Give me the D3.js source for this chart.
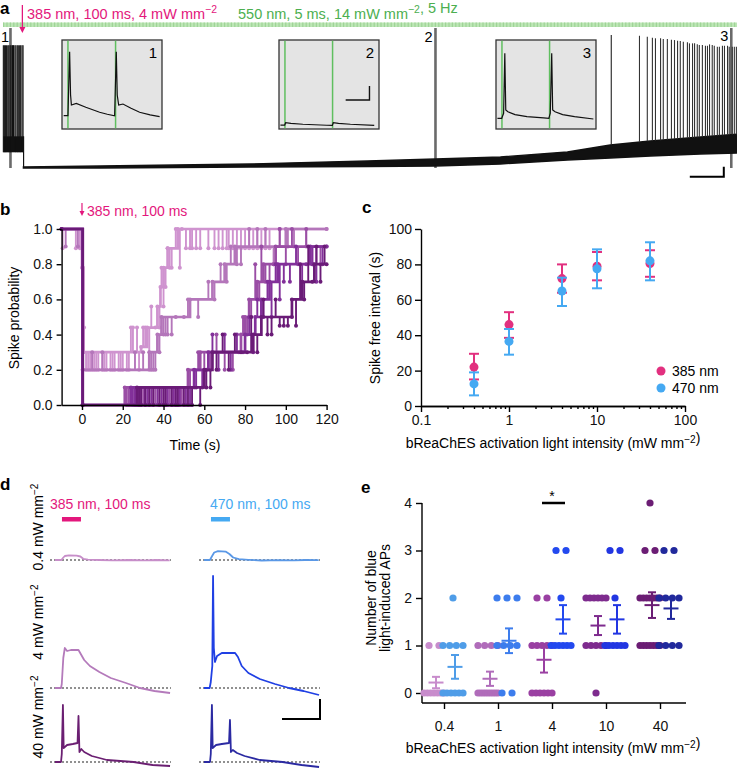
<!DOCTYPE html>
<html><head><meta charset="utf-8">
<script src="https://cdn.jsdelivr.net/npm/d3@7"></script>
<style>body{margin:0;background:#fff}svg{display:block;font-family:"Liberation Sans",Arial,Helvetica,sans-serif}</style>
</head><body><svg id="c" width="737" height="771"></svg>
<script>
// ================= DATA =================
// Panel a (time in s, voltage in mV)
const aPreSpikeTimes = [-5.9,-5.6,-5.3,-5.0,-4.6,-4.3,-3.9,-3.6,-3.2,-2.9,-2.5,-2.2,-1.8,-1.5,-1.1,-0.8,-0.4,-0.1];
const aPrePeak = 22;
const aPreBandLow = -62.5, aPreBandHigh = -50;
const aEnvT    = [0, 22.6, 66.8, 101.2, 121.2, 140.3, 160, 172.6, 184.4, 199.1, 210];
const aEnvLow  = [-75, -75, -74.2, -73.8, -73.4, -71.8, -68.7, -67.1, -65.5, -64, -63.2];
const aEnvHigh = [-74.2, -73.4, -71.8, -69.5, -67.9, -66.3, -62.4, -56.8, -53.7, -50.5, -48.2];
const aSpikeTimes = [172.9,181.2,183.5,185.0,185.9,187.4,188.2,189.4,190.6,191.5,192.4,193.2,194.1,195.3,195.9,196.8,197.4,198.2,198.8,199.7,200.6,201.2,201.8,202.6,203.2,204.1,204.7,205.6,206.2,207.1,207.6,208.5,209.1,209.7];
const aSpikePeaks = [30,29.4,28.7,27.9,27.4,27.4,26.8,26.8,26.3,26,25.5,25.3,24.7,24.2,23.4,23.4,23.4,22.6,22.1,22.1,21.5,21.5,22.6,22.1,21.5,20.8,20.8,21.5,21.5,21.5,20.8,20.8,20.8,20.8];
const aMarkerTimes = [-3.8, 121.2, 208.2];
const aMarkerLabels = ["1", "2", "3"];
const aGreenPulses = [25, 225]; // ms within inset window
// insets: [ms, mV]
const inset1 = [[7,-69.6],[25,-69.6],[32,21.9],[36,-40],[39.5,-54.3],[60,-51.9],[100,-57.5],[158,-64.7],[190,-67.5],[221,-69.6],[228,21.9],[232,-40],[238,-54.3],[256,-52.9],[290,-59],[326,-64.7],[370,-68.5],[410,-71]];
const inset2 = [[6,-82.9],[24,-82.9],[28,-79.6],[50,-80.5],[100,-81.8],[200,-83.2],[224,-83.5],[228,-79.6],[250,-80.5],[300,-81.8],[400,-83.5]];
const inset3 = [[6,-73.3],[24,-73.3],[32,-66.1],[37,19.6],[41,-61.4],[50,-64],[80,-68],[130,-71],[200,-72.8],[222,-73.3],[228,-66.1],[234,19.6],[238,-61.4],[248,-64],[280,-68],[330,-71],[409,-74.3]];
const insetLabels = ["1","2","3"];

// Panel b: step series (time s, probability)
const bColors = ["#cf93cf","#b476ba","#9a4ea5","#82309a","#6a1b77"];
const bSteps = [
  [[-10,1],[0,0.78],[0.7,0.3],[29,0.33],[32,0.44],[37,0.56],[38.5,0.67],[40,0.78],[42,0.89],[47,1],[120,1]],
  [[-10,1],[0.3,0.2],[33,0.3],[37,0.4],[39,0.5],[53,0.6],[64,0.7],[70,0.8],[75,0.9],[100,1],[120,1]],
  [[-10,1],[0.2,0],[21,0.1],[52,0.2],[58,0.3],[78,0.4],[80,0.5],[82,0.6],[86,0.7],[89,0.8],[95,0.9],[120,0.9]],
  [[-10,1],[0.3,0],[24,0.1],[55,0.2],[62,0.3],[80,0.4],[85,0.5],[88,0.6],[92,0.7],[96,0.8],[112,0.9],[120,0.9]],
  [[-10,1],[0.4,0],[27,0.1],[60,0.2],[64,0.3],[84,0.4],[88,0.5],[103,0.6],[108,0.7],[114,0.8],[120,0.8]]
];
const bFlicks = [
  [[-9.5,0.89],[-3,0.89],[-1,0.89],[1,0.44],[2,0.2],[3,0.2],[4,0.2],[5,0.2],[6,0.2],[7,0.2],[8,0.2],[10,0.2],[11,0.2],[12,0.2],[14,0.2],[15,0.2],[16,0.2],[18,0.2],[19,0.2],[20,0.2],[22,0.2],[23,0.2],[24,0.44],[25,0.44],[27,0.44],[28,0.2],[30,0.44],[31,0.44],[33,0.2],[34,0.56],[36,0.44],[38,0.44],[39,0.78],[40,0.56],[41,0.67],[42,0.89],[43,0.78],[44,0.78],[46,1.0],[48,0.78],[49,1.0],[51,0.89],[53,0.89],[54,0.89],[56,0.89],[58,0.89],[62,0.89],[65,0.89],[67,0.89],[69,0.89],[71,0.89],[72,0.89],[74,0.89],[76,0.89],[78,0.89],[80,0.89],[82,0.89],[84,0.89],[86,0.89],[88,0.89],[90,0.89],[92,0.89]],
  [[-8,0.9],[-2,0.9],[5,0.3],[10,0.3],[26,0.3],[30,0.3],[34,0.2],[35,0.2],[36,0.2],[38,0.3],[40,0.4],[41,0.4],[42,0.4],[44,0.4],[46,0.5],[50,0.5],[52,0.6],[57,0.5],[62,0.7],[65,0.6],[68,0.8],[71,0.7],[73,0.9],[76,0.8],[78,0.8],[82,1.0],[86,1.0],[90,1.0],[94,0.8],[97,1.0],[101,0.9],[104,0.9],[110,0.9]],
  [[22,0],[23,0],[24,0],[26,0],[27,0],[28,0],[30,0],[31,0],[33,0],[35,0],[36,0],[38,0],[40,0],[42,0],[43,0],[45,0],[46,0],[48,0],[49,0],[53,0.1],[55,0.1],[57,0.3],[60,0.2],[63,0.2],[66,0.4],[70,0.2],[74,0.2],[77,0.3],[79,0.5],[81,0.4],[83,0.5],[85,0.8],[87,0.6],[88,0.9],[90,0.7],[92,0.7],[94,0.8],[97,1.0],[100,0.8],[103,1.0],[106,0.8],[110,1.0],[113,0.8],[117,0.8]],
  [[25,0],[26,0],[27,0],[29,0],[31,0],[32,0],[34,0],[37,0],[39,0],[41,0],[42,0],[44,0],[45,0],[47,0],[48,0],[51,0],[53,0],[56,0.1],[59,0.1],[61,0.2],[64,0.4],[67,0.2],[70,0.4],[73,0.2],[76,0.4],[79,0.3],[82,0.5],[84,0.3],[86,0.6],[89,0.5],[91,0.7],[93,0.5],[95,0.8],[97,0.6],[99,0.7],[102,0.7],[105,0.9],[108,0.7],[110,0.8],[113,0.8],[115,0.7],[118,0.8]],
  [[28,0],[29,0],[31,0],[33,0],[35,0],[38,0],[40,0],[41,0],[44,0],[46,0],[47,0],[50,0],[52,0],[54,0],[58,0],[61,0.1],[63,0.1],[66,0.2],[69,0.4],[72,0.2],[75,0.4],[78,0.3],[81,0.3],[83,0.5],[86,0.3],[89,0.6],[91,0.4],[93,0.4],[95,0.6],[97,0.45],[99,0.45],[101,0.45],[103,0.5],[105,0.45],[107,0.8],[109,0.6],[111,0.9],[113,0.7],[115,0.9],[117,0.7],[119,0.9]]
];
const bXTicks = [0,20,40,60,80,100,120];
const bYTicks = [0,0.2,0.4,0.6,0.8,1.0];

// Panel c
const cIntensity = [0.4, 1, 4, 10, 40];
const c385Mean = [22, 46, 72, 79, 80.5];
const c385Lo   = [15, 38.5, 64, 71, 73];
const c385Hi   = [29.5, 53, 80, 87, 88];
const c470Mean = [12.5, 36.5, 65, 77.5, 82];
const c470Lo   = [6, 29, 56.5, 66.5, 71];
const c470Hi   = [19, 43.5, 72.5, 88.5, 92.5];
const cXTicks = [0.1, 1, 10, 100];
const cYTicks = [0, 20, 40, 60, 80, 100];
const cLegend = ["385 nm", "470 nm"];

// Panel d traces [ms, mV above baseline]
const dRowLabels = ["0.4", "4", "40"];
const dLight = [63, 163];
const dTraces = [
  [ // 0.4
    [[26,0],[60,0],[68,2],[78,4],[100,4.6],[140,4.4],[160,3.5],[175,1.2],[200,0.4],[260,0],[330,-0.3],[420,0],[500,-0.4],[560,0],[630,-0.3]],
    [[26,0],[58,0],[66,3],[80,7.5],[100,8.8],[140,8.4],[160,6],[180,2.5],[210,0.8],[260,0.2],[330,-0.5],[420,-0.2],[500,-0.4],[560,0],[630,-0.2]]
  ],
  [ // 4
    [[26,0],[58,0],[62,4],[70,30],[78,40],[90,37],[110,38],[150,38],[162,34],[180,28],[210,22],[260,16],[320,10],[400,5],[474,0],[550,-3],[632,-5]],
    [[26,0],[56,0],[62,6],[70,22],[74,112],[78,40],[84,26],[95,32],[120,35],[190,35],[205,31],[225,22],[260,15],[320,9],[400,4],[474,0],[550,-3],[632,-7]]
  ],
  [ // 40
    [[26,0],[58,0],[62,8],[68,57],[72,14],[90,17],[120,18],[145,19],[150,46],[155,10],[165,13],[180,10],[220,6],[300,2],[440,0],[540,-3],[632,-4]],
    [[26,0],[58,0],[62,8],[68,57],[72,14],[90,17],[120,18],[158,19],[163,42],[168,10],[178,12],[200,9],[240,6],[320,2],[440,0],[540,-3],[632,-5]]
  ]
];
const dColors = [["#c78ec9","#5a98e6"],["#b47abb","#2040e4"],["#6b1f72","#2b2aa2"]];

// Panel e
const eCats = ["0.4", "1", "4", "10", "40"];
const ePinkDots = [[0,0,0,0,0,0,0,1,1],[0,0,0,0,0,0,0,0,0,1,1,1,1],[0,0,0,0,0,0,1,1,1,1,1,2,2],[0,1,1,1,1,1,2,2,2,2,2,2],[1,1,1,1,1,1,1,2,2,2,2,2,2,2,3,3,4]];
const eBlueDots = [[0,0,0,0,0,0,1,1,1,1,2],[0,0,1,1,1,1,2,2,2],[1,1,1,1,1,1,2,3,3],[1,1,1,1,1,1,2,3,3],[1,1,1,1,2,2,2,2,3,3]];
const ePinkMean = [0.22, 0.3, 0.7, 1.42, 1.85];
const ePinkSem  = [0.12, 0.15, 0.27, 0.2, 0.27];
const eBlueMean = [0.55, 1.1, 1.55, 1.55, 1.78];
const eBlueSem  = [0.25, 0.26, 0.3, 0.3, 0.22];
const ePinkColors = ["#c88ccc","#b06cba","#9a40a2","#7e2b8e","#6b1d74"];
const eBlueColors = ["#4f9de8","#3d7ded","#2349ef","#2236e2","#21299c"];
const eYTicks = [0,1,2,3,4];

// ================= DRAW =================
const PINK = "#e3177c", GREEN = "#4caf50", BLUE = "#45a9f2";
const svg = d3.select("#c");
const FS = 14;

function supText(sel, parts, size) {
  parts.forEach(p => {
    if (p.sup) {
      sel.append("tspan").attr("dy", -size*0.38).attr("font-size", size*0.72).text(p.t);
      sel.append("tspan").attr("dy", size*0.38).text("");
    } else sel.append("tspan").text(p.t);
  });
  return sel;
}
function panelLabel(t, x, y) {
  svg.append("text").attr("x", x).attr("y", y).attr("font-size", 17).attr("font-weight", "bold").text(t);
}
function styleAxis(g) {
  g.selectAll("path.domain").attr("stroke", "#000").attr("stroke-width", 1.4);
  g.selectAll(".tick line").attr("stroke", "#000").attr("stroke-width", 1.4);
  g.selectAll(".tick text").attr("font-size", FS).attr("fill", "#111").attr("font-family", null);
}

// ---------- Panel a ----------
panelLabel("a", 0, 14);
const aX = d3.scaleLinear([-6, 210], [3, 737.4]);
const aY = d3.scaleLinear([-75, 30], [168, 35]);
const ga = svg.append("g");
ga.append("rect").attr("x", aX(-6)).attr("y", 22.5).attr("width", aX(210) - aX(-6)).attr("height", 4.5).attr("fill", "#bde6b6");
ga.append("line").attr("x1", aX(-6)).attr("x2", aX(210)).attr("y1", 24.75).attr("y2", 24.75)
  .attr("stroke", "#9fd497").attr("stroke-width", 4.5).attr("stroke-dasharray", "1.2,2.2");
supText(ga.append("text").attr("x", 27).attr("y", 19).attr("font-size", 14.5).attr("fill", PINK),
  [{t:"385 nm, 100 ms, 4 mW mm"},{t:"−2",sup:true}], 14.5);
supText(ga.append("text").attr("x", 238).attr("y", 19).attr("font-size", 14.5).attr("fill", GREEN),
  [{t:"550 nm, 5 ms, 14 mW mm"},{t:"−2",sup:true},{t:", 5 Hz"}], 14.5);
ga.append("line").attr("x1", aX(-0.3)).attr("x2", aX(-0.3)).attr("y1", 5).attr("y2", 31).attr("stroke", PINK).attr("stroke-width", 1.3);
ga.append("path").attr("d", `M${aX(-0.3)-3},27 L${aX(-0.3)+3},27 L${aX(-0.3)},33 Z`).attr("fill", PINK);
aMarkerTimes.forEach(t => {
  ga.append("line").attr("x1", aX(t)).attr("x2", aX(t)).attr("y1", aY(35.5)).attr("y2", aY(-75))
    .attr("stroke", "#6a6a6a").attr("stroke-width", 2.6);
});
ga.append("text").attr("x", 1).attr("y", 42).attr("font-size", 14.5).text(aMarkerLabels[0]);
ga.append("text").attr("x", aX(aMarkerTimes[1]) - 3).attr("y", 42).attr("font-size", 14.5).attr("text-anchor", "end").text(aMarkerLabels[1]);
ga.append("text").attr("x", aX(aMarkerTimes[2]) - 3).attr("y", 41).attr("font-size", 14.5).attr("text-anchor", "end").text(aMarkerLabels[2]);
ga.append("rect").attr("x", aX(-5.9)).attr("y", aY(aPreBandHigh)).attr("width", aX(0) - aX(-5.9)).attr("height", aY(aPreBandLow) - aY(aPreBandHigh)).attr("fill", "#111");
aPreSpikeTimes.forEach(t => {
  ga.append("line").attr("x1", aX(t)).attr("x2", aX(t)).attr("y1", aY(aPreBandLow)).attr("y2", aY(aPrePeak)).attr("stroke", "#111").attr("stroke-width", 1.1);
});
ga.append("line").attr("x1", aX(0.05)).attr("x2", aX(0.05)).attr("y1", aY(aPreBandHigh)).attr("y2", aY(-75)).attr("stroke", "#111").attr("stroke-width", 1.2);
const envData = aEnvT.map((t, i) => ({t, lo: aEnvLow[i], hi: aEnvHigh[i]}));
ga.append("path").datum(envData).attr("fill", "#111").attr("stroke", "#111").attr("stroke-width", 1.4)
  .attr("d", d3.area().x(d => aX(d.t)).y0(d => aY(d.lo)).y1(d => aY(d.hi)));
const hiAt = d3.scaleLinear(aEnvT, aEnvHigh);
aSpikeTimes.forEach((t, i) => {
  ga.append("line").attr("x1", aX(t)).attr("x2", aX(t)).attr("y1", aY(hiAt(t))).attr("y2", aY(aSpikePeaks[i]))
    .attr("stroke", i === 0 ? "#222" : "#333").attr("stroke-width", 1.1);
});
ga.append("path").attr("d", `M${aX(196)},${aY(-82)} H${aX(206)} V${aY(-74)}`).attr("fill", "none").attr("stroke", "#000").attr("stroke-width", 2);
const insets = [inset1, inset2, inset3];
const insetX0 = [62, 279, 496];
const iX = d3.scaleLinear([0, 420], [0, 100]);
const iY = d3.scaleLinear([-70, 30], [76, 6]);
insets.forEach((pts, k) => {
  const g = ga.append("g").attr("transform", `translate(${insetX0[k]},40)`);
  g.append("rect").attr("width", 100).attr("height", 89).attr("fill", "#e4e4e4").attr("stroke", "#333").attr("stroke-width", 1.3);
  aGreenPulses.forEach(p => g.append("line").attr("x1", iX(p)).attr("x2", iX(p)).attr("y1", 0.7).attr("y2", 88.3).attr("stroke", "#5fbf5f").attr("stroke-width", 1.5));
  g.append("path").datum(pts).attr("fill", "none").attr("stroke", "#111").attr("stroke-width", 1.2)
    .attr("d", d3.line().x(d => iX(d[0])).y(d => iY(d[1])));
  g.append("text").attr("x", 95).attr("y", 18).attr("text-anchor", "end").attr("font-size", 15).text(insetLabels[k]);
  if (k === 1) {
    // scale bar: 100 ms, 20 mV
    const barH = iY(-70) - iY(-50);
    g.append("path").attr("d", `M${iX(280)},60 H${iX(380)} V${60 - barH}`).attr("fill", "none").attr("stroke", "#111").attr("stroke-width", 1.4);
  }
});

// ---------- Panel b ----------
panelLabel("b", 0, 215);
const bX = d3.scaleLinear([-10, 120], [61.6, 326.6]);
const bY = d3.scaleLinear([0, 1], [405, 229]);
const gb = svg.append("g");
function stepAt(steps, t) { let v = steps[0][1]; steps.forEach(s => { if (s[0] <= t) v = s[1]; }); return v; }
bSteps.forEach((steps, k) => {
  const col = bColors[k];
  const g = gb.append("g");
  bFlicks[k].forEach(f => {
    const base = stepAt(steps, f[0]);
    g.append("line").attr("x1", bX(f[0])).attr("x2", bX(f[0])).attr("y1", bY(base)).attr("y2", bY(f[1])).attr("stroke", col).attr("stroke-width", 1.9);
    g.append("circle").attr("cx", bX(f[0])).attr("cy", bY(f[1])).attr("r", 2).attr("fill", col);
  });
  g.append("path").datum(steps).attr("fill", "none").attr("stroke", col).attr("stroke-width", 2.7)
    .attr("d", d3.line().curve(d3.curveStepAfter).x(d => bX(d[0])).y(d => bY(d[1])));
  steps.forEach(s => g.append("circle").attr("cx", bX(s[0])).attr("cy", bY(s[1])).attr("r", 2).attr("fill", col));
});
const bxa = gb.append("g").attr("transform", "translate(0,405)").call(d3.axisBottom(bX).tickValues(bXTicks).tickSize(5).tickSizeOuter(0).tickPadding(4));
styleAxis(bxa);
const bya = gb.append("g").attr("transform", "translate(61.6,0)").call(d3.axisLeft(bY).tickValues(bYTicks).tickFormat(d3.format(".1f")).tickSize(5).tickSizeOuter(0).tickPadding(4));
styleAxis(bya);
gb.append("text").attr("x", 195).attr("y", 450).attr("text-anchor", "middle").attr("font-size", FS).text("Time (s)");
gb.append("text").attr("transform", "translate(19,318) rotate(-90)").attr("text-anchor", "middle").attr("font-size", FS).text("Spike probability");
gb.append("line").attr("x1", bX(0)).attr("x2", bX(0)).attr("y1", 203).attr("y2", 214).attr("stroke", PINK).attr("stroke-width", 1.2);
gb.append("path").attr("d", `M${bX(0)-2.5},211 L${bX(0)+2.5},211 L${bX(0)},216 Z`).attr("fill", PINK);
gb.append("text").attr("x", bX(0) + 5).attr("y", 216).attr("font-size", FS).attr("fill", PINK).text("385 nm, 100 ms");

// ---------- Panel c ----------
panelLabel("c", 362, 213);
const cX = d3.scaleLog([0.1, 100], [421, 685]);
const cY = d3.scaleLinear([0, 100], [406, 229]);
const gc = svg.append("g");
const minor = [];
[0.1, 1, 10].forEach(dec => [2,3,4,5,6,7,8,9].forEach(m => minor.push(dec * m)));
const cxMinor = gc.append("g").attr("transform", "translate(0,406)").call(d3.axisBottom(cX).tickValues(minor).tickFormat("").tickSize(3).tickSizeOuter(0));
styleAxis(cxMinor);
const cxa = gc.append("g").attr("transform", "translate(0,406)").call(d3.axisBottom(cX).tickValues(cXTicks).tickFormat(d => String(d)).tickSize(6).tickSizeOuter(0).tickPadding(3));
styleAxis(cxa);
const cya = gc.append("g").attr("transform", "translate(421,0)").call(d3.axisLeft(cY).tickValues(cYTicks).tickSize(6).tickSizeOuter(0).tickPadding(3));
styleAxis(cya);
function cSeries(means, lo, hi, col) {
  cIntensity.forEach((x, i) => {
    const px = cX(x);
    gc.append("line").attr("x1", px).attr("x2", px).attr("y1", cY(lo[i])).attr("y2", cY(hi[i])).attr("stroke", col).attr("stroke-width", 2);
    [lo[i], hi[i]].forEach(v => gc.append("line").attr("x1", px - 5).attr("x2", px + 5).attr("y1", cY(v)).attr("y2", cY(v)).attr("stroke", col).attr("stroke-width", 2));
    gc.append("circle").attr("cx", px).attr("cy", cY(means[i])).attr("r", 4.5).attr("fill", col);
  });
}
cSeries(c385Mean, c385Lo, c385Hi, "#e2307f");
cSeries(c470Mean, c470Lo, c470Hi, BLUE);
[["#e2307f", 371], [BLUE, 388]].forEach((d, i) => {
  gc.append("circle").attr("cx", 661).attr("cy", d[1]).attr("r", 4.5).attr("fill", d[0]);
  gc.append("text").attr("x", 672).attr("y", d[1] + 5).attr("font-size", FS).text(cLegend[i]);
});
supText(gc.append("text").attr("x", 553).attr("y", 448).attr("text-anchor", "middle").attr("font-size", FS),
  [{t:"bReaChES activation light intensity (mW mm"},{t:"−2",sup:true},{t:")"}], FS);
gc.append("text").attr("transform", "translate(380,318) rotate(-90)").attr("text-anchor", "middle").attr("font-size", FS).text("Spike free interval (s)");

// ---------- Panel d ----------
panelLabel("d", 0, 490);
const gd = svg.append("g");
const dX = d3.scaleLinear([0, 637], [0, 121]);
const dColX = [50, 199];
const dBase = [560, 688, 762];
const dY = d3.scaleLinear([0, 20], [0, -20]);
gd.append("text").attr("x", 50).attr("y", 509).attr("font-size", FS).attr("fill", PINK).text("385 nm, 100 ms");
gd.append("text").attr("x", 210).attr("y", 509).attr("font-size", FS).attr("fill", BLUE).text("470 nm, 100 ms");
gd.append("rect").attr("x", dColX[0] + dX(dLight[0])).attr("y", 517).attr("width", dX(dLight[1]) - dX(dLight[0])).attr("height", 4.5).attr("fill", PINK);
gd.append("rect").attr("x", dColX[1] + dX(dLight[0])).attr("y", 517).attr("width", dX(dLight[1]) - dX(dLight[0])).attr("height", 4.5).attr("fill", BLUE);
const dLabelY = [527, 622, 717];
dRowLabels.forEach((lab, r) => {
  supText(gd.append("text").attr("transform", `translate(43,${dLabelY[r]}) rotate(-90)`).attr("text-anchor", "middle").attr("font-size", FS),
    [{t: lab + " mW mm"}, {t:"−2", sup:true}], FS);
  [0, 1].forEach(c => {
    const g = gd.append("g").attr("transform", `translate(${dColX[c]},${dBase[r]})`);
    g.append("line").attr("x1", 0).attr("x2", 121).attr("y1", 0).attr("y2", 0).attr("stroke", "#222").attr("stroke-width", 1.2).attr("stroke-dasharray", "2,2");
    g.append("path").datum(dTraces[r][c]).attr("fill", "none").attr("stroke", dColors[r][c]).attr("stroke-width", 1.8).attr("stroke-linejoin", "round")
      .attr("d", d3.line().x(d => dX(d[0])).y(d => dY(d[1])));
  });
});
gd.append("path").attr("d", `M${dColX[1] + dX(437)},719 H${dColX[1] + dX(637)} V${719 + dY(20)}`).attr("fill", "none").attr("stroke", "#000").attr("stroke-width", 2);

// ---------- Panel e ----------
panelLabel("e", 361, 493);
const ge = svg.append("g");
const eX = d3.scalePoint().domain(eCats).range([444, 660]);
const eY = d3.scaleLinear([0, 4], [693, 503]);
const eyAx = ge.append("g").attr("transform", "translate(422,0)").call(d3.axisLeft(eY).tickValues(eYTicks).tickFormat(d3.format("d")).tickSize(6).tickSizeOuter(0).tickPadding(4));
styleAxis(eyAx);
eyAx.select("path.domain").attr("d", `M0,${eY(4)}V703`);
const exAx = ge.append("g").attr("transform", "translate(0,703)").call(d3.axisBottom(eX).tickSize(6).tickSizeOuter(0).tickPadding(12));
styleAxis(exAx);
exAx.select("path.domain").attr("d", "M422,0H686");
function dotGroup(vals, cx, col) {
  const groups = d3.group(vals, v => v);
  groups.forEach((arr, v) => {
    const n = arr.length;
    const w = n > 1 ? Math.min(20, (n - 1) * 10) : 0;
    arr.forEach((_, i) => {
      const x = n > 1 ? cx - w / 2 + i * w / (n - 1) : cx;
      ge.append("circle").attr("cx", x).attr("cy", eY(v)).attr("r", 3.6).attr("fill", col);
    });
  });
}
function meanCross(m, s, cx, col) {
  ge.append("line").attr("x1", cx - 7.5).attr("x2", cx + 7.5).attr("y1", eY(m)).attr("y2", eY(m)).attr("stroke", col).attr("stroke-width", 2);
  ge.append("line").attr("x1", cx).attr("x2", cx).attr("y1", eY(m - s)).attr("y2", eY(m + s)).attr("stroke", col).attr("stroke-width", 2);
  [m - s, m + s].forEach(v => ge.append("line").attr("x1", cx - 4).attr("x2", cx + 4).attr("y1", eY(v)).attr("y2", eY(v)).attr("stroke", col).attr("stroke-width", 2));
}
eCats.forEach((c, i) => {
  dotGroup(ePinkDots[i], eX(c) - 10, ePinkColors[i]);
  dotGroup(eBlueDots[i], eX(c) + 9, eBlueColors[i]);
});
eCats.forEach((c, i) => {
  meanCross(ePinkMean[i], ePinkSem[i], eX(c) - 8, ePinkColors[i]);
  meanCross(eBlueMean[i], eBlueSem[i], eX(c) + 11, eBlueColors[i]);
});
ge.append("line").attr("x1", eX("4") - 10).attr("x2", eX("4") + 13).attr("y1", 503).attr("y2", 503).attr("stroke", "#000").attr("stroke-width", 2.5);
ge.append("text").attr("x", eX("4")).attr("y", 501).attr("text-anchor", "middle").attr("font-size", 14).text("*");
supText(ge.append("text").attr("x", 553).attr("y", 753).attr("text-anchor", "middle").attr("font-size", FS),
  [{t:"bReaChES activation light intensity (mW mm"},{t:"−2",sup:true},{t:")"}], FS);
ge.append("text").attr("transform", "translate(376,598) rotate(-90)").attr("text-anchor", "middle").attr("font-size", FS).text("Number of blue");
ge.append("text").attr("transform", "translate(390,598) rotate(-90)").attr("text-anchor", "middle").attr("font-size", FS).text("light-induced APs");
</script></body></html>
